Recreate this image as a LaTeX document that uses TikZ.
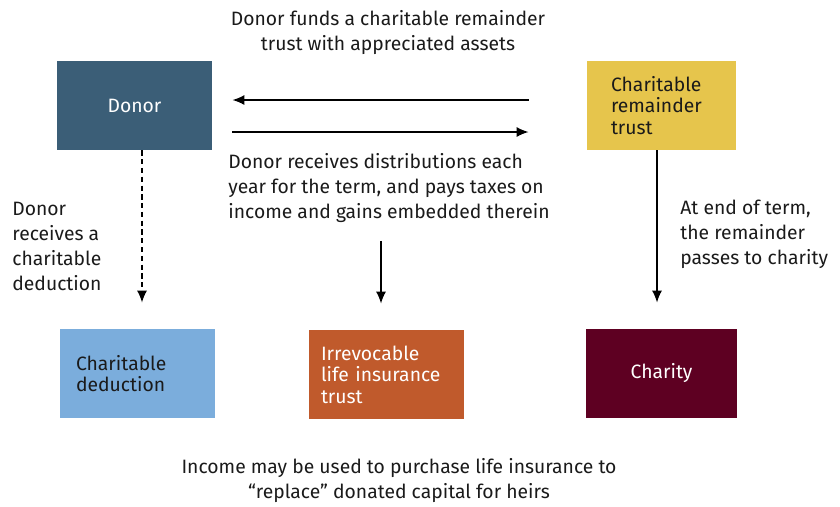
\documentclass[tikz,border=0pt]{standalone}
\usepackage{fontspec}
\setmainfont{Fira Sans}
\usepackage{xcolor}
\usepackage{tikz}
\usetikzlibrary{positioning,arrows.meta}

\definecolor{donorblue}{HTML}{3B5E77}
\definecolor{trustyellow}{HTML}{E6C54C}
\definecolor{deductblue}{HTML}{7BADDC}
\definecolor{ilitorange}{HTML}{C05A2C}
\definecolor{charityred}{HTML}{5E0022}
\definecolor{inkdark}{HTML}{1A1A1A}

\begin{document}
\begin{tikzpicture}[
font=\fontsize{11}{14.2}\selectfont,
box/.style={rectangle, minimum width=3.1cm, minimum height=1.78cm, inner sep=0pt},
boxtext/.style={font=\fontsize{11}{12.2}\selectfont, align=left},
note/.style={text=inkdark, align=left, inner sep=0pt},
line/.style={line width=0.9pt},
>={Latex[length=2.4mm, width=2mm]}
]
\useasboundingbox (0,0) rectangle (16.8,-10.12);

\node[box, fill=donorblue, text=white](donor) at (2.69,-2.11){Donor};
\node[box, boxtext, fill=trustyellow, text=inkdark, minimum width=2.98cm, text width=2.02cm, inner xsep=0.48cm](crt)[right of = donor, node distance=10.54cm]{Charitable\\remainder\\trust};

\node[box, fill=charityred, text=white, minimum width=3.02cm](charity)[below of = crt, node distance=5.36cm]{Charity};
\node[box, boxtext, fill=ilitorange, text=white, text width=2.62cm, inner xsep=0.24cm](ilit)[left of = charity, node distance=5.5cm, yshift=-0.02cm]{Irrevocable\\life insurance\\trust};
\node[box, boxtext, fill=deductblue, text=inkdark, text width=2.46cm, inner xsep=0.32cm](deduct)[left of = ilit, node distance=4.98cm, yshift=0.02cm]{Charitable\\deduction};

\node[note, align=center](fund) at (7.76,-0.65){Donor funds a charitable remainder\\trust with appreciated assets};
\node[note, anchor=west](distrib) at (4.56,-3.76){Donor receives distributions each\\year for the term, and pays taxes on\\income and gains embedded therein};
\node[note, anchor=west](deductnote) at (0.24,-4.93){Donor\\receives a\\charitable\\deduction};
\node[note, anchor=west](termnote) at (13.6,-4.68){At end of term,\\the remainder\\passes to charity};
\node[note, align=center](income) at (7.98,-9.61){Income may be used to purchase life insurance to\\``replace'' donated capital for heirs};

\draw[->, line, shorten >=0.4cm, shorten <=1.16cm] ([yshift=0.11cm]crt.west) -- ([yshift=0.11cm]donor.east);
\draw[->, line, shorten <=0.4cm, shorten >=1.16cm] ([yshift=-0.53cm]donor.east) -- ([yshift=-0.53cm]crt.west);

\draw[->, line, densely dashed, shorten >=0.52cm] ([xshift=0.15cm]donor.south) -- ([xshift=0.15cm]donor.south |- deduct.north);
\draw[->, line, shorten <=0.36cm, shorten >=0.52cm] ([xshift=-0.11cm]ilit.north |- distrib.south) -- ([xshift=-0.11cm]ilit.north);
\draw[->, line, shorten >=0.52cm] ([xshift=-0.09cm]crt.south) -- ([xshift=-0.09cm]crt.south |- charity.north);

\end{tikzpicture}
\end{document}
